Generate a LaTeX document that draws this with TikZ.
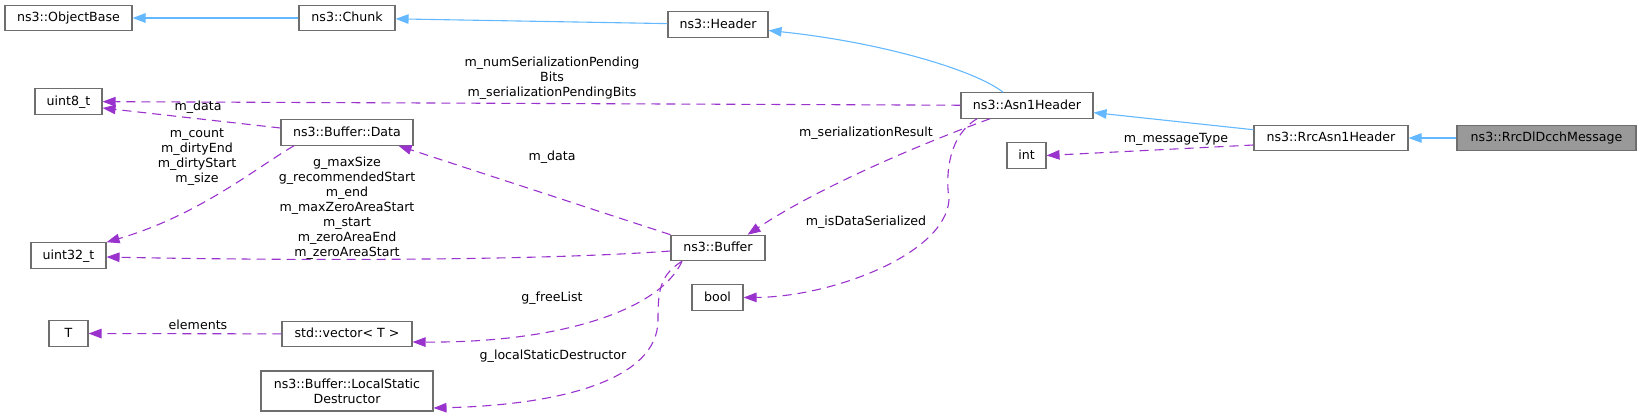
\documentclass[tikz,border=0pt]{standalone}
\usepackage{fontspec}
\setmainfont{DejaVu Sans}
\usetikzlibrary{arrows.meta}
\definecolor{edgeblue}{HTML}{63B8FF}
\definecolor{edgepurple}{HTML}{9A32CD}
\definecolor{boxborder}{HTML}{6E6E6E}
\definecolor{boxfill}{HTML}{999999}
\newcommand\dxfont{\fontsize{12.6}{15}\selectfont}
\begin{document}
\begin{tikzpicture}[x=1pt,y=-1pt,
  clsbase/.style={draw=boxborder, line width=1.1pt, fill=white, inner sep=0pt, minimum height=25.5pt, font=\dxfont},
  cls/.style={clsbase, text height=9.6pt, text depth=2pt},
  hl/.style={fill=boxfill},
  inh/.style={draw=edgeblue, line width=1.1pt, -{Triangle[length=13pt,width=9.5pt]}},
  member/.style={draw=edgepurple, line width=1.1pt, dash pattern=on 9pt off 6pt, -{Triangle[length=13pt,width=9.5pt]}},
  lbl/.style={font=\dxfont, inner sep=0pt, align=center},
]
\useasboundingbox (0,0) rectangle (1641,417);

% class nodes
\node[cls, minimum width=127pt] (objbase) at (68.5,18) {ns3::ObjectBase};
\node[cls, minimum width=96pt] (chunk) at (347,18) {ns3::Chunk};
\node[cls, minimum width=100pt] (header) at (718,24.5) {ns3::Header};
\node[cls, minimum width=132pt] (asn1) at (1027,105.5) {ns3::Asn1Header};
\node[cls, minimum width=154pt] (rrcasn1) at (1331,138) {ns3::RrcAsn1Header};
\node[cls, hl, minimum width=179pt] (rrcdl) at (1546.5,138) {ns3::RrcDlDcchMessage};
\node[cls, minimum width=39pt] (int) at (1026.5,155.5) {int};
\node[cls, minimum width=67pt] (uint8) at (68.5,101.5) {uint8\_t};
\node[cls, minimum width=132pt] (data) at (347,132.5) {ns3::Buffer::Data};
\node[cls, minimum width=75pt] (uint32) at (68.5,255.5) {uint32\_t};
\node[cls, minimum width=94pt] (buffer) at (718,248) {ns3::Buffer};
\node[cls, minimum width=51pt] (bool) at (717.5,297.5) {bool};
\node[cls, minimum width=39pt] (T) at (68.5,333.5) {T};
\node[cls, minimum width=130pt] (vector) at (347,334) {std::vector< T >};
\node[clsbase, minimum width=172pt, minimum height=40pt, align=center] (lsd) at (347,391) {ns3::Buffer::LocalStatic\\Destructor};

% inheritance
\draw[inh] (chunk) -- (objbase);
\draw[inh] (header) -- (chunk);
\draw[inh] ([xshift=-24pt]asn1.north) .. controls (975,70) and (880,42) .. ([yshift=-6pt]header.east);
\draw[inh] (rrcasn1) -- (asn1);
\draw[inh] (rrcdl) -- (rrcasn1);

% usage
\draw[member] (asn1) -- (uint8);
\draw[member] ([yshift=4.5pt]data.west) -- ([yshift=-6.5pt]uint8.east);
\draw[member] ([xshift=-53pt]data.south) .. controls (260,165) and (200,215) .. (uint32.north east);
\draw[member] ([yshift=-3pt]buffer.west) .. controls (520,262) and (250,260) .. ([yshift=-1.5pt]uint32.east);
\draw[member] (buffer.north west) -- ([xshift=-15pt]data.south east);
\draw[member] ([xshift=-37pt]asn1.south) .. controls (950,133) and (830,180) .. ([xshift=-18pt]buffer.north east);
\draw[member] ([xshift=-50pt]asn1.south) .. controls (950,135) and (945,170) .. (949,200) .. controls (945,255) and (830,297) .. (bool.east);
\draw[member] ([yshift=-7pt]rrcasn1.west) -- (int.east);
\draw[member] ([xshift=-36pt]buffer.south) .. controls (660,310) and (560,343) .. ([yshift=-8pt]vector.east);
\draw[member] ([xshift=-36pt]buffer.south) .. controls (660,275) and (658,290) .. (658,320) .. controls (658,380) and (560,405) .. ([yshift=-17pt]lsd.east);
\draw[member] (vector) -- (T);

% labels
\node[lbl] (l1) at (552,78) {m\_numSerializationPending\\Bits\\m\_serializationPendingBits};
\node[lbl] (l2) at (198,107) {m\_data};
\node[lbl] (l3) at (197,157) {m\_count\\m\_dirtyEnd\\m\_dirtyStart\\m\_size};
\node[lbl] (l4) at (347,208) {g\_maxSize\\g\_recommendedStart\\m\_end\\m\_maxZeroAreaStart\\m\_start\\m\_zeroAreaEnd\\m\_zeroAreaStart};
\node[lbl] (l5) at (552,157) {m\_data};
\node[lbl] (l6) at (866,133) {m\_serializationResult};
\node[lbl] (l7) at (866,222) {m\_isDataSerialized};
\node[lbl] (l8) at (1176,139) {m\_messageType};
\node[lbl] (l9) at (552,298) {g\_freeList};
\node[lbl] (l10) at (553,356) {g\_localStaticDestructor};
\node[lbl] (l11) at (198,325) {elements};
\end{tikzpicture}
\end{document}
